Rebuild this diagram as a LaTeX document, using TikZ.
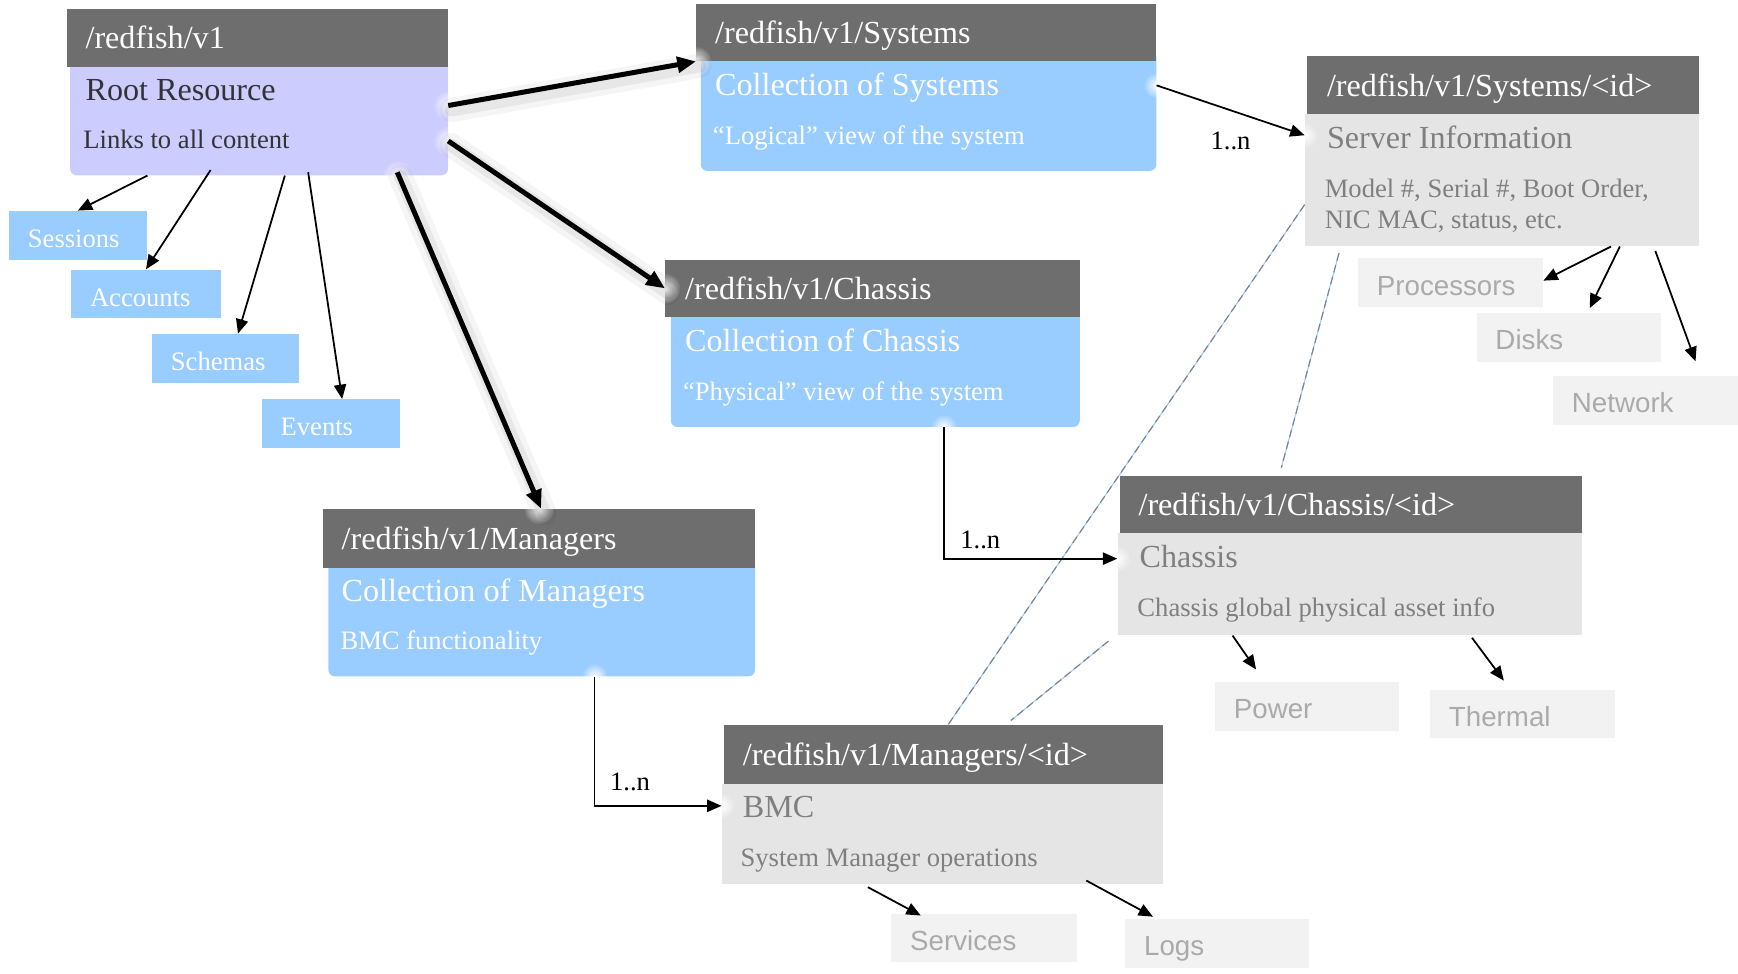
\documentclass[tikz,border=0pt]{standalone}
\usepackage{fontspec}
\setmainfont{Liberation Serif}
\newfontfamily\tagsans{Liberation Sans}
\usetikzlibrary{arrows.meta,fadings}

\definecolor{hdgray}{HTML}{6E6E6E}
\definecolor{rflav}{HTML}{CCCCFF}
\definecolor{rfblue}{HTML}{99CCFF}
\definecolor{rfpanel}{HTML}{E5E5E5}
\definecolor{rftag}{HTML}{F2F2F2}
\definecolor{rfdark}{HTML}{333333}
\definecolor{rfmid}{HTML}{7F7F7F}
\definecolor{rflight}{HTML}{AAAAAA}

\newcommand{\rfHead}{\fontsize{29}{33}\selectfont}
\newcommand{\rfSub}{\fontsize{24}{28}\selectfont}
\newcommand{\rfTag}{\fontsize{24}{28}\selectfont}

\tikzfading[name=glowfade, inner color=transparent!0, outer color=transparent!100]

\tikzset{
  hd/.style={fill=hdgray, anchor=north west, inner sep=0pt, minimum height=52pt},
  bd/.style={anchor=north west, inner sep=0pt},
  roundbd/.style={bd, rounded corners=6pt},
  hdtxt/.style={anchor=base west, inner sep=0pt, text=white, font=\rfHead},
  ttl/.style={anchor=base west, inner sep=0pt, font=\rfHead},
  sub/.style={anchor=base west, inner sep=0pt, font=\rfSub},
  tag/.style={anchor=north west, inner xsep=17pt, inner ysep=0pt, minimum height=44pt,
    text width=#1, text height=22pt, text depth=0pt, align=left},
  bluetag/.style={tag=#1, fill=rfblue, text=white, font=\rfTag},
  graytag/.style={tag=#1, fill=rftag, text=rflight, font=\tagsans\fontsize{25}{28}\selectfont},
  link/.style={-{Triangle[length=13pt,width=11pt]}, line width=1.6pt},
  bold/.style={-{Triangle[length=17pt,width=14pt]}, line width=4.5pt,
    preaction={-, draw=black, draw opacity=.04, line width=22pt, line cap=round, transform canvas={shift={(3pt,-4pt)}}},
    preaction={-, draw=black, draw opacity=.06, line width=12pt, line cap=round, transform canvas={shift={(3pt,-4pt)}}}},
  rel/.style={draw=rfblue, line width=1pt, postaction={draw=gray, dash pattern=on 7pt off 4pt, line width=1pt}},
  lbl/.style={font=\rfSub, inner sep=0pt},
  glow/.style={fill=white, path fading=glowfade}
}

\begin{document}
\begin{tikzpicture}[x=1pt, y=-1pt]
\useasboundingbox (0,0) rectangle (1568,878);

% root resource
\node[roundbd, fill=rflav, minimum width=341pt, minimum height=108pt] (rootbd) at (63,50) {};
\node[hd, minimum width=344pt] (roothd) at (60,8) {};
\node[hdtxt] (rootpath) at ([xshift=17pt,yshift=-10pt]roothd.west) {/redfish/v1};
\node[ttl, text=rfdark] (roottitle) at ([xshift=17pt,yshift=-30pt]roothd.south west) {Root Resource};
\node[sub, text=rfdark] (rootnote) at ([xshift=15pt,yshift=-74pt]roothd.south west) {Links to all content};

% collections
\node[roundbd, fill=rfblue, minimum width=411pt, minimum height=109pt] (sysbd) at (632,45) {};
\node[hd, minimum width=415pt] (syshd) at (628,3) {};
\node[hdtxt] (syspath) at ([xshift=17pt,yshift=-10pt]syshd.west) {/redfish/v1/Systems};
\node[ttl, text=white] (systitle) at ([xshift=17pt,yshift=-31pt]syshd.south west) {Collection of Systems};
\node[sub, text=white] (sysnote) at ([xshift=15pt,yshift=-75pt]syshd.south west) {“Logical” view of the system};

\node[roundbd, fill=rfblue, minimum width=369pt, minimum height=109pt] (chsbd) at (605,276) {};
\node[hd, minimum width=374pt] (chshd) at (600,234) {};
\node[hdtxt] (chspath) at ([xshift=18pt,yshift=-10pt]chshd.west) {/redfish/v1/Chassis};
\node[ttl, text=white] (chstitle) at ([xshift=18pt,yshift=-31pt]chshd.south west) {Collection of Chassis};
\node[sub, text=white] (chsnote) at ([xshift=16pt,yshift=-75pt]chshd.south west) {“Physical” view of the system};

\node[roundbd, fill=rfblue, minimum width=385pt, minimum height=108pt] (mgrbd) at (296,502) {};
\node[hd, minimum width=390pt, minimum height=53pt] (mgrhd) at (291,459) {};
\node[hdtxt] (mgrpath) at ([xshift=17pt,yshift=-10pt]mgrhd.west) {/redfish/v1/Managers};
\node[ttl, text=white] (mgrtitle) at ([xshift=17pt,yshift=-30pt]mgrhd.south west) {Collection of Managers};
\node[sub, text=white] (mgrnote) at ([xshift=16pt,yshift=-74pt]mgrhd.south west) {BMC functionality};

% members
\node[bd, fill=rfpanel, minimum width=356pt, minimum height=119pt] (sidbd) at (1177,103) {};
\node[hd, minimum width=354pt, minimum height=53pt] (sidhd) at (1179,50) {};
\node[hdtxt] (sidpath) at ([xshift=18pt,yshift=-10pt]sidhd.west) {/redfish/v1/Systems/<id>};
\node[ttl, text=rfmid] (sidtitle) at ([xshift=18pt,yshift=-31pt]sidhd.south west) {Server Information};
\node[sub, text=rfmid] (sidnote) at ([xshift=16pt,yshift=-75pt]sidhd.south west) {Model \#, Serial \#, Boot Order,};
\node[sub, text=rfmid] (sidnote2) at ([xshift=16pt,yshift=-103pt]sidhd.south west) {NIC MAC, status, etc.};

\node[bd, fill=rfpanel, minimum width=419pt, minimum height=92pt] (cidbd) at (1008,481) {};
\node[hd, minimum width=417pt] (cidhd) at (1010,429) {};
\node[hdtxt] (cidpath) at ([xshift=17pt,yshift=-10pt]cidhd.west) {/redfish/v1/Chassis/<id>};
\node[ttl, text=rfmid] (cidtitle) at ([xshift=18pt,yshift=-31pt]cidhd.south west) {Chassis};
\node[sub, text=rfmid] (cidnote) at ([xshift=16pt,yshift=-75pt]cidhd.south west) {Chassis global physical asset info};

\node[bd, fill=rfpanel, minimum width=398pt, minimum height=90pt] (midbd) at (651,707) {};
\node[hd, minimum width=396pt, minimum height=53pt] (midhd) at (653,654) {};
\node[hdtxt] (midpath) at ([xshift=17pt,yshift=-10pt]midhd.west) {/redfish/v1/Managers/<id>};
\node[ttl, text=rfmid] (midtitle) at ([xshift=17pt,yshift=-30pt]midhd.south west) {BMC};
\node[sub, text=rfmid] (midnote) at ([xshift=15pt,yshift=-74pt]midhd.south west) {System Manager operations};

% small resources
\node[bluetag=90pt] (sessions) at (8,190) {Sessions};
\node[bluetag=101pt] (accounts) at (64,243) {Accounts};
\node[bluetag=99pt] (schemas) at (137,301) {Schemas};
\node[bluetag=91pt] (events) at (236,360) {Events};

\node[graytag=133pt] (processors) at (1225,233) {Processors};
\node[graytag=132pt] (disks) at (1332,282) {Disks};
\node[graytag=133pt] (network) at (1401,339) {Network};
\node[graytag=132pt] (power) at (1096,615) {Power};
\node[graytag=133pt] (thermal) at (1290,622) {Thermal};
\node[graytag=133pt] (services) at (804,824) {Services};
\node[graytag=132pt] (logs) at (1015,829) {Logs};

% glow where links leave or enter
\fill[glow] ([yshift=9pt]rootbd.east) circle (14pt);
\fill[glow] ([yshift=-23pt]rootbd.east) circle (14pt);
\fill[glow] ([xshift=-46pt]rootbd.south east) circle (14pt);
\fill[glow] (syshd.south west) circle (14pt);
\fill[glow] (chshd.west) circle (14pt);
\fill[glow] (mgrhd.north) circle (14pt);
\fill[glow] ([yshift=-32pt]sysbd.north east) circle (12pt);
\fill[glow] ([yshift=-19pt]sidbd.north west) circle (12pt);
\fill[glow] ([xshift=-123pt]chsbd.south east) circle (12pt);
\fill[glow] ([yshift=-23pt]cidbd.north west) circle (12pt);
\fill[glow] ([xshift=-145pt]mgrbd.south east) circle (12pt);
\fill[glow] ([yshift=-20pt]midbd.north west) circle (12pt);

% relations between members
\draw[rel] ([yshift=-22pt]sidbd.west) -- ([xshift=4pt]midhd.north);
\draw[rel] ([xshift=31pt,yshift=-6pt]sidbd.south west) -- ([xshift=146pt,yshift=7pt]cidhd.north west);
\draw[rel] ([xshift=-8pt,yshift=-5pt]cidbd.south west) -- ([xshift=259pt,yshift=4pt]midhd.north west);

% links from the root
\draw[link] ([xshift=70pt]rootbd.south west) -- (sessions.north);
\draw[link] ([xshift=127pt,yshift=5pt]rootbd.south west) -- (accounts.north);
\draw[link] ([xshift=194pt]rootbd.south west) -- ([xshift=11pt]schemas.north);
\draw[link] ([xshift=215pt,yshift=3pt]rootbd.south west) -- ([xshift=10pt]events.north);

\draw[bold] ([yshift=9pt]rootbd.east) -- (syshd.south west);
\draw[bold] ([yshift=-23pt]rootbd.east) -- (chshd.west);
\draw[bold] ([xshift=-46pt,yshift=3pt]rootbd.south east) -- ([xshift=2pt]mgrhd.north);

% collections to members
\draw[link] ([yshift=-32pt]sysbd.north east) -- ([yshift=-19pt]sidbd.north west)
  node[lbl, midway, yshift=-28pt] (sysn) {1..n};
\draw[link] ([xshift=-123pt]chsbd.south east) |- ([yshift=-23pt]cidbd.north west)
  node[lbl, pos=.5, xshift=33pt, yshift=17pt] (chsn) {1..n};
\draw[link] ([xshift=-145pt]mgrbd.south east) |- ([yshift=-20pt]midbd.north west)
  node[lbl, pos=.5, xshift=32pt, yshift=22pt] (mgrn) {1..n};

% member sub-resources
\draw[link] ([xshift=-80pt]sidbd.south east) -- ([yshift=2pt]processors.east);
\draw[link] ([xshift=-72pt]sidbd.south east) -- ([xshift=19pt,yshift=4pt]disks.north);
\draw[link] ([xshift=-40pt,yshift=-4pt]sidbd.south east) -- ([xshift=45pt,yshift=13pt]network.north);
\draw[link] ([xshift=104pt]cidbd.south west) -- ([xshift=-46pt,yshift=11pt]power.north);
\draw[link] ([xshift=320pt,yshift=-2pt]cidbd.south west) -- ([xshift=-17pt,yshift=8pt]thermal.north);
\draw[link] ([xshift=132pt,yshift=-3pt]midbd.south west) -- ([xshift=-57pt,yshift=-2pt]services.north);
\draw[link] ([xshift=329pt,yshift=3pt]midbd.south west) -- ([xshift=-58pt,yshift=2pt]logs.north);

\end{tikzpicture}
\end{document}
